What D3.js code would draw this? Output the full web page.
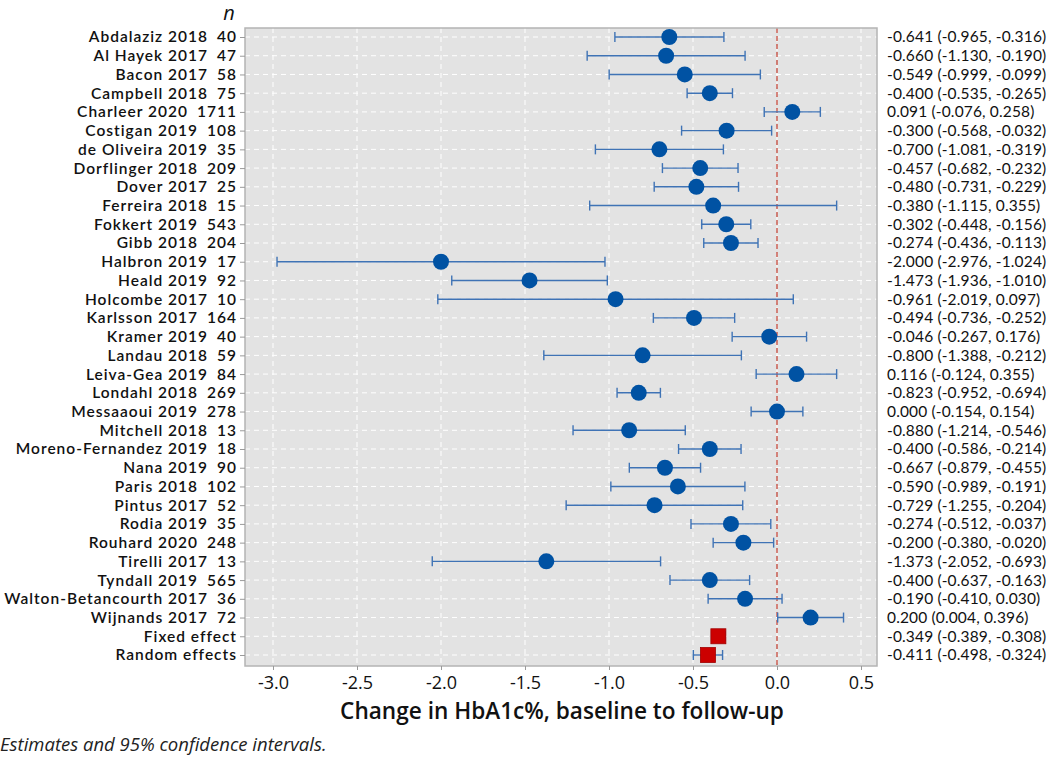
<!DOCTYPE html>
<html>
<head>
<meta charset="utf-8">
<script src="https://cdn.jsdelivr.net/npm/d3@7/dist/d3.min.js"></script>
<style>
  body { margin: 0; background: #ffffff; }
  svg { display: block; }
</style>
</head>
<body>
<svg id="chart" width="1047" height="760"></svg>
<script>
const studies = ["Abdalaziz 2018","Al Hayek 2017","Bacon 2017","Campbell 2018","Charleer 2020","Costigan 2019","de Oliveira 2019","Dorflinger 2018","Dover 2017","Ferreira 2018","Fokkert 2019","Gibb 2018","Halbron 2019","Heald 2019","Holcombe 2017","Karlsson 2017","Kramer 2019","Landau 2018","Leiva-Gea 2019","Londahl 2018","Messaaoui 2019","Mitchell 2018","Moreno-Fernandez 2019","Nana 2019","Paris 2018","Pintus 2017","Rodia 2019","Rouhard 2020","Tirelli 2017","Tyndall 2019","Walton-Betancourth 2017","Wijnands 2017","Fixed effect","Random effects"];
const sampleSizes = [40,47,58,75,1711,108,35,209,25,15,543,204,17,92,10,164,40,59,84,269,278,13,18,90,102,52,35,248,13,565,36,72,null,null];
const estimates = [-0.641,-0.660,-0.549,-0.400,0.091,-0.300,-0.700,-0.457,-0.480,-0.380,-0.302,-0.274,-2.000,-1.473,-0.961,-0.494,-0.046,-0.800,0.116,-0.823,0.000,-0.880,-0.400,-0.667,-0.590,-0.729,-0.274,-0.200,-1.373,-0.400,-0.190,0.200,-0.349,-0.411];
const lower = [-0.965,-1.130,-0.999,-0.535,-0.076,-0.568,-1.081,-0.682,-0.731,-1.115,-0.448,-0.436,-2.976,-1.936,-2.019,-0.736,-0.267,-1.388,-0.124,-0.952,-0.154,-1.214,-0.586,-0.879,-0.989,-1.255,-0.512,-0.380,-2.052,-0.637,-0.410,0.004,-0.389,-0.498];
const upper = [-0.316,-0.190,-0.099,-0.265,0.258,-0.032,-0.319,-0.232,-0.229,0.355,-0.156,-0.113,-1.024,-1.010,0.097,-0.252,0.176,-0.212,0.355,-0.694,0.154,-0.546,-0.214,-0.455,-0.191,-0.204,-0.037,-0.020,-0.693,-0.163,0.030,0.396,-0.308,-0.324];
const isSummary = [false,false,false,false,false,false,false,false,false,false,false,false,false,false,false,false,false,false,false,false,false,false,false,false,false,false,false,false,false,false,false,false,true,true];
const xTicks = [-3.0,-2.5,-2.0,-1.5,-1.0,-0.5,0.0,0.5];
const xTitle = "Change in HbA1c%, baseline to follow-up";
const footnote = "Estimates and 95% confidence intervals.";

const rows = studies.map((s,i)=>({study:s, n:sampleSizes[i], est:estimates[i], lo:lower[i], hi:upper[i], summary:isSummary[i], idx:i}));

const svg = d3.select("#chart");
const plot = {left:245, right:877, top:28, bottom:666};
const fontFam = "'Open Sans', 'Noto Sans', sans-serif";
const rowFont = "Lato, 'Open Sans', sans-serif";

const x = d3.scaleLinear().domain([-3.0 - 28/168, 0.5 + 16/168]).range([plot.left, plot.right]);
const y = d3.scalePoint().domain(d3.range(rows.length)).range([37, 655]);

// background
svg.append("rect").attr("x",plot.left).attr("y",plot.top)
  .attr("width",plot.right-plot.left).attr("height",plot.bottom-plot.top)
  .attr("fill","#e3e3e3");

// grid
const g = svg.append("g");
g.selectAll(".hgrid").data(rows).join("line")
  .attr("x1",plot.left).attr("x2",plot.right)
  .attr("y1",d=>y(d.idx)).attr("y2",d=>y(d.idx))
  .attr("stroke","#ffffff").attr("stroke-width",1).attr("stroke-dasharray","5,4");
g.selectAll(".vgrid").data(xTicks).join("line")
  .attr("x1",d=>x(d)).attr("x2",d=>x(d))
  .attr("y1",plot.top).attr("y2",plot.bottom)
  .attr("stroke","#ffffff").attr("stroke-width",1).attr("stroke-dasharray","5,4");

// reference line at 0
svg.append("line").attr("x1",x(0)).attr("x2",x(0)).attr("y1",plot.top).attr("y2",plot.bottom)
  .attr("stroke","#c0392b").attr("stroke-width",1.2).attr("stroke-dasharray","5,3");

// border
svg.append("rect").attr("x",plot.left).attr("y",plot.top)
  .attr("width",plot.right-plot.left).attr("height",plot.bottom-plot.top)
  .attr("fill","none").attr("stroke","#b4b4b4").attr("stroke-width",1.5);

// left axis ticks (labels custom)
const yAxis = d3.axisLeft(y).tickSize(5).tickFormat("");
const ya = svg.append("g").attr("transform",`translate(${plot.left},0)`).call(yAxis);
ya.select(".domain").remove();
ya.selectAll(".tick line").attr("stroke","#9a9a9a");

// bottom axis
const xAxis = d3.axisBottom(x).tickValues(xTicks).tickFormat(d3.format(".1f")).tickSize(4).tickPadding(6);
const xa = svg.append("g").attr("transform",`translate(0,${plot.bottom})`).call(xAxis);
xa.select(".domain").remove();
xa.selectAll(".tick line").attr("stroke","#9a9a9a");
xa.selectAll(".tick text").attr("font-family",fontFam).attr("font-size",18).attr("fill","#111")
  .text(d=>d3.format(".1f")(d).replace("−","-"));

// whiskers
const wColor = "#3f73b5";
const wg = svg.append("g");
rows.forEach(d=>{
  const yy = y(d.idx);
  wg.append("line").attr("x1",x(d.lo)).attr("x2",x(d.hi)).attr("y1",yy).attr("y2",yy)
    .attr("stroke",wColor).attr("stroke-width",1.4);
  [d.lo,d.hi].forEach(v=>{
    wg.append("line").attr("x1",x(v)).attr("x2",x(v)).attr("y1",yy-5).attr("y2",yy+5)
      .attr("stroke",wColor).attr("stroke-width",1.4);
  });
});

// markers
svg.append("g").selectAll("circle").data(rows.filter(d=>!d.summary)).join("circle")
  .attr("cx",d=>x(d.est)).attr("cy",d=>y(d.idx)).attr("r",8)
  .attr("fill","#0052a3");
const sq = 15;
svg.append("g").selectAll("rect").data(rows.filter(d=>d.summary)).join("rect")
  .attr("x",d=>x(d.est)-sq/2).attr("y",d=>y(d.idx)-sq/2).attr("width",sq).attr("height",sq)
  .attr("fill","#cc0000").attr("stroke","#a00000").attr("stroke-width",0.8);

// left labels: "name   n" right-aligned
const lab = svg.append("g").attr("font-family",rowFont).attr("font-size",15.5).attr("font-weight",600)
  .attr("letter-spacing",1.0).attr("fill","#111");
const lt = lab.selectAll(".name").data(rows).join("text")
  .attr("x",237).attr("y",d=>y(d.idx)).attr("dy","0.35em")
  .attr("text-anchor","end");
lt.append("tspan").text(d=>d.study);
lt.filter(d=>d.n!==null).append("tspan").attr("dx",9).text(d=>d.n);

svg.append("text").attr("x",229).attr("y",20).attr("font-family",fontFam).attr("font-size",20)
  .attr("font-style","italic").attr("text-anchor","middle").attr("fill","#111").text("n");

// right labels
const f3 = v=>d3.format(".3f")(v).replace("−","-");
svg.append("g").attr("font-family",rowFont).attr("font-size",15.5).attr("letter-spacing",0.15).attr("fill","#111")
  .selectAll("text").data(rows).join("text")
  .attr("x",887).attr("y",d=>y(d.idx)).attr("dy","0.35em")
  .text(d=>`${f3(d.est)} (${f3(d.lo)}, ${f3(d.hi)})`);

// axis title
svg.append("text").attr("x",(plot.left+plot.right)/2 + 1).attr("y",719)
  .attr("text-anchor","middle").attr("font-family",fontFam).attr("font-size",22.6).attr("font-weight",600)
  .attr("fill","#111").text(xTitle);

// footnote
svg.append("text").attr("x",0).attr("y",751).attr("font-family",fontFam).attr("font-size",18.5)
  .attr("font-style","italic").attr("fill","#222").text(footnote);
</script>
</body>
</html>
